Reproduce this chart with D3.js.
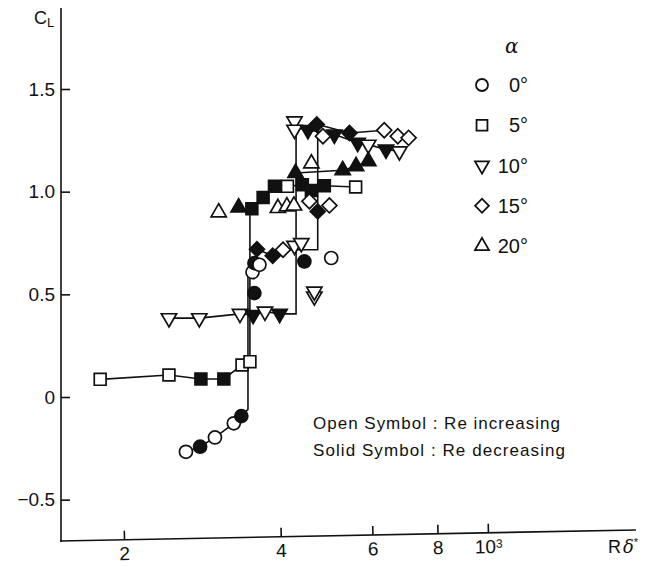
<!DOCTYPE html>
<html>
<head>
<meta charset="utf-8">
<script src="https://cdn.jsdelivr.net/npm/d3@7"></script>
<style>
  body { margin: 0; background: #fff; }
  svg { display: block; }
  text { font-family: "Liberation Sans", Arial, sans-serif; fill: #111; }
  .axis text { font-size: 19px; }
  .axis line { stroke: #111; stroke-width: 1.6; }
  .legend text { font-family: "Liberation Sans Narrow", "Liberation Sans", Arial, sans-serif; font-size: 20px; }
</style>
</head>
<body>
<div id="graf"></div>
<script>
// Datos: [R delta*, C_L, solido (1) / abierto (0)]
const alphas = ["0°", "5°", "10°", "15°", "20°"]

const puntos0 = [
  [263, -0.267, 0], [280, -0.242, 1], [299, -0.197, 0], [325, -0.128, 0], [336, -0.093, 1],
  [353, 0.608, 0], [356, 0.652, 1], [364, 0.644, 0], [356, 0.506, 1], [444, 0.66, 1], [500, 0.677, 0],
]
const puntos5 = [
  [180, 0.086, 0], [244, 0.107, 0], [281, 0.088, 1], [311, 0.088, 1], [337, 0.156, 0], [349, 0.172, 0],
  [352, 0.917, 1], [370, 0.972, 1], [389, 1.026, 1], [412, 1.026, 0], [440, 1.034, 1], [458, 1.006, 1],
  [485, 1.029, 1], [557, 1.023, 0],
]
const puntos10 = [
  [244, 0.384, 0], [279, 0.384, 0], [334, 0.405, 0], [354, 0.40, 1], [373, 0.416, 0], [398, 0.405, 1],
  [425, 0.737, 0], [438, 0.75, 0], [464, 0.49, 0], [464, 0.514, 0],
  [425, 1.343, 0], [425, 1.302, 0], [451, 1.30, 1], [507, 1.278, 1], [562, 1.238, 1], [589, 1.229, 0],
  [637, 1.205, 1], [676, 1.197, 0],
]
const puntos15 = [
  [360, 0.72, 1], [386, 0.688, 1], [404, 0.717, 0], [454, 0.953, 0], [471, 0.904, 1], [496, 0.933, 0],
  [469, 1.327, 1], [482, 1.27, 0], [542, 1.286, 1], [632, 1.299, 0], [671, 1.27, 0], [704, 1.262, 0],
]
const puntos20 = [
  [304, 0.899, 0], [332, 0.923, 1], [395, 0.92, 0], [411, 0.928, 0], [424, 0.932, 0],
  [427, 1.091, 1], [458, 1.137, 0], [526, 1.104, 1], [558, 1.124, 1], [589, 1.148, 1],
]

// Trazos que unen los puntos
const linea0 = [[263, -0.267], [280, -0.242], [299, -0.197], [325, -0.128], [336, -0.093], [346, -0.06], [346, 0.605]]
const linea5 = [[180, 0.086], [244, 0.107], [281, 0.088], [311, 0.088], [337, 0.156], [349, 0.172], [349, 0.917],
  [370, 0.972], [389, 1.026], [412, 1.026], [440, 1.034], [485, 1.029], [557, 1.023]]
const linea10 = [[244, 0.384], [279, 0.384], [334, 0.405], [354, 0.40], [373, 0.416], [398, 0.405], [428, 0.405],
  [428, 1.31], [451, 1.30], [507, 1.278], [562, 1.238], [589, 1.229], [637, 1.205], [676, 1.197]]
const linea15 = [[360, 0.72], [386, 0.688], [404, 0.717], [471, 0.717], [471, 1.327], [542, 1.286], [632, 1.299]]
const linea20 = [[427, 1.091], [526, 1.104], [558, 1.124], [589, 1.148]]

// Ejes
const xTicks = [200, 400, 600, 800, 1000]
const xTickLabels = ["2", "4", "6", "8", "10"]
const yTicks = [-0.5, 0, 0.5, 1.0, 1.5]
const yTickLabels = ["−0.5", "0", "0.5", "1.0", "1.5"]

// Dimensiones
const anchoTotal = 648
const altoTotal = 567
const ejeX = 61
const ejeY = 541

const svg = d3.select("#graf")
  .append("svg")
  .attr("width", anchoTotal)
  .attr("height", altoTotal)

// Escaladores
const x = d3.scaleLog().domain([200, 1000]).range([124, 488])
const y = d3.scaleLinear().domain([0, 1.5]).range([397, 89])

// Eje Y
const yAxisGroup = svg.append("g")
  .attr("class", "axis")
  .attr("transform", `translate(${ejeX}, 0)`)
yAxisGroup.call(
  d3.axisLeft(y).tickValues(yTicks).tickSize(-9).tickPadding(6)
    .tickFormat((d, i) => yTickLabels[i])
)
yAxisGroup.select(".domain").remove()
yAxisGroup.selectAll("text").attr("font-size", 19).attr("font-family", null)
yAxisGroup.append("line")
  .attr("y1", 8).attr("y2", ejeY + 1)
  .attr("stroke-width", 2.2)

// Eje X (inclinado ligeramente como en el original)
const xAxisGroup = svg.append("g")
  .attr("class", "axis")
  .attr("transform", `translate(0, ${ejeY}) rotate(-1.1 ${ejeX} 0)`)
xAxisGroup.call(
  d3.axisBottom(x).tickValues(xTicks).tickSize(-9).tickPadding(7)
    .tickFormat((d, i) => xTickLabels[i])
)
xAxisGroup.select(".domain").remove()
xAxisGroup.selectAll("text").attr("font-size", 19).attr("font-family", null)
xAxisGroup.selectAll(".tick text")
  .filter((d) => d === 1000)
  .append("tspan")
  .attr("dy", "-0.45em")
  .attr("font-size", 12)
  .text("3")
xAxisGroup.append("line")
  .attr("x1", ejeX - 1).attr("x2", 636)
  .attr("stroke-width", 1.8)

// Títulos de ejes
const cl = svg.append("text").attr("x", 34).attr("y", 24).attr("font-size", 18)
cl.append("tspan").text("C")
cl.append("tspan").attr("font-size", 13).attr("dy", 3).text("L")

const rd = svg.append("text").attr("x", 608).attr("y", 553).attr("font-size", 18)
rd.append("tspan").text("R")
rd.append("tspan").attr("font-family", "DejaVu Serif").attr("font-style", "italic").attr("dx", 2).text("δ")
rd.append("tspan").attr("font-size", 11).attr("dy", -7).text("*")

// Símbolos
const simbolo = {
  "0°": { type: d3.symbolCircle, size: 133, rot: 0 },
  "5°": { type: d3.symbolSquare, size: 140, rot: 0 },
  "10°": { type: d3.symbolTriangle, size: 100, rot: 180 },
  "15°": { type: d3.symbolSquare, size: 112, rot: 45 },
  "20°": { type: d3.symbolTriangle, size: 100, rot: 0 },
}
const series = [
  { a: "0°", puntos: puntos0, linea: linea0 },
  { a: "5°", puntos: puntos5, linea: linea5 },
  { a: "10°", puntos: puntos10, linea: linea10 },
  { a: "15°", puntos: puntos15, linea: linea15 },
  { a: "20°", puntos: puntos20, linea: linea20 },
]

const line = d3.line().x((d) => x(d[0])).y((d) => y(d[1]))

const lineas = svg.append("g")
lineas.selectAll("path")
  .data(series)
  .enter()
  .append("path")
  .attr("d", (s) => line(s.linea))
  .attr("fill", "none")
  .attr("stroke", "#111")
  .attr("stroke-width", 1.6)

const marcas = svg.append("g")
series.forEach((s) => {
  const sim = simbolo[s.a]
  marcas.selectAll(null)
    .data(s.puntos)
    .enter()
    .append("path")
    .attr("d", d3.symbol().type(sim.type).size(sim.size))
    .attr("transform", (d) => `translate(${x(d[0])}, ${y(d[1])}) rotate(${sim.rot})`)
    .attr("fill", (d) => (d[2] ? "#111" : "#fff"))
    .attr("stroke", "#111")
    .attr("stroke-width", 1.7)
})

// Leyenda
const leyY = d3.scalePoint().domain(alphas).range([85, 246])
const leyenda = svg.append("g").attr("class", "legend")
leyenda.append("text")
  .attr("x", 505).attr("y", 53)
  .attr("font-style", "italic")
  .attr("font-size", 26)
  .style("font-family", "DejaVu Serif")
  .text("α")
const filas = leyenda.selectAll("g.fila")
  .data(alphas)
  .enter()
  .append("g")
  .attr("class", "fila")
  .attr("transform", (d) => `translate(0, ${leyY(d)})`)
filas.append("path")
  .attr("d", (d) => d3.symbol().type(simbolo[d].type).size(simbolo[d].size * 0.85)())
  .attr("transform", (d) => `translate(482, 0) rotate(${simbolo[d].rot})`)
  .attr("fill", "#fff")
  .attr("stroke", "#111")
  .attr("stroke-width", 1.8)
filas.append("text")
  .attr("x", 528)
  .attr("dy", "0.35em")
  .attr("text-anchor", "end")
  .text((d) => d)

// Notas
const notas = ["Open Symbol : Re increasing", "Solid Symbol : Re decreasing"]
const notasAncho = [247, 252]
svg.append("g")
  .selectAll("text")
  .data(notas)
  .enter()
  .append("text")
  .attr("x", 313)
  .attr("y", (d, i) => 429 + i * 27)
  .attr("font-size", 17)
  .attr("textLength", (d, i) => notasAncho[i])
  .attr("lengthAdjust", "spacing")
  .text((d) => d)
</script>
</body>
</html>
